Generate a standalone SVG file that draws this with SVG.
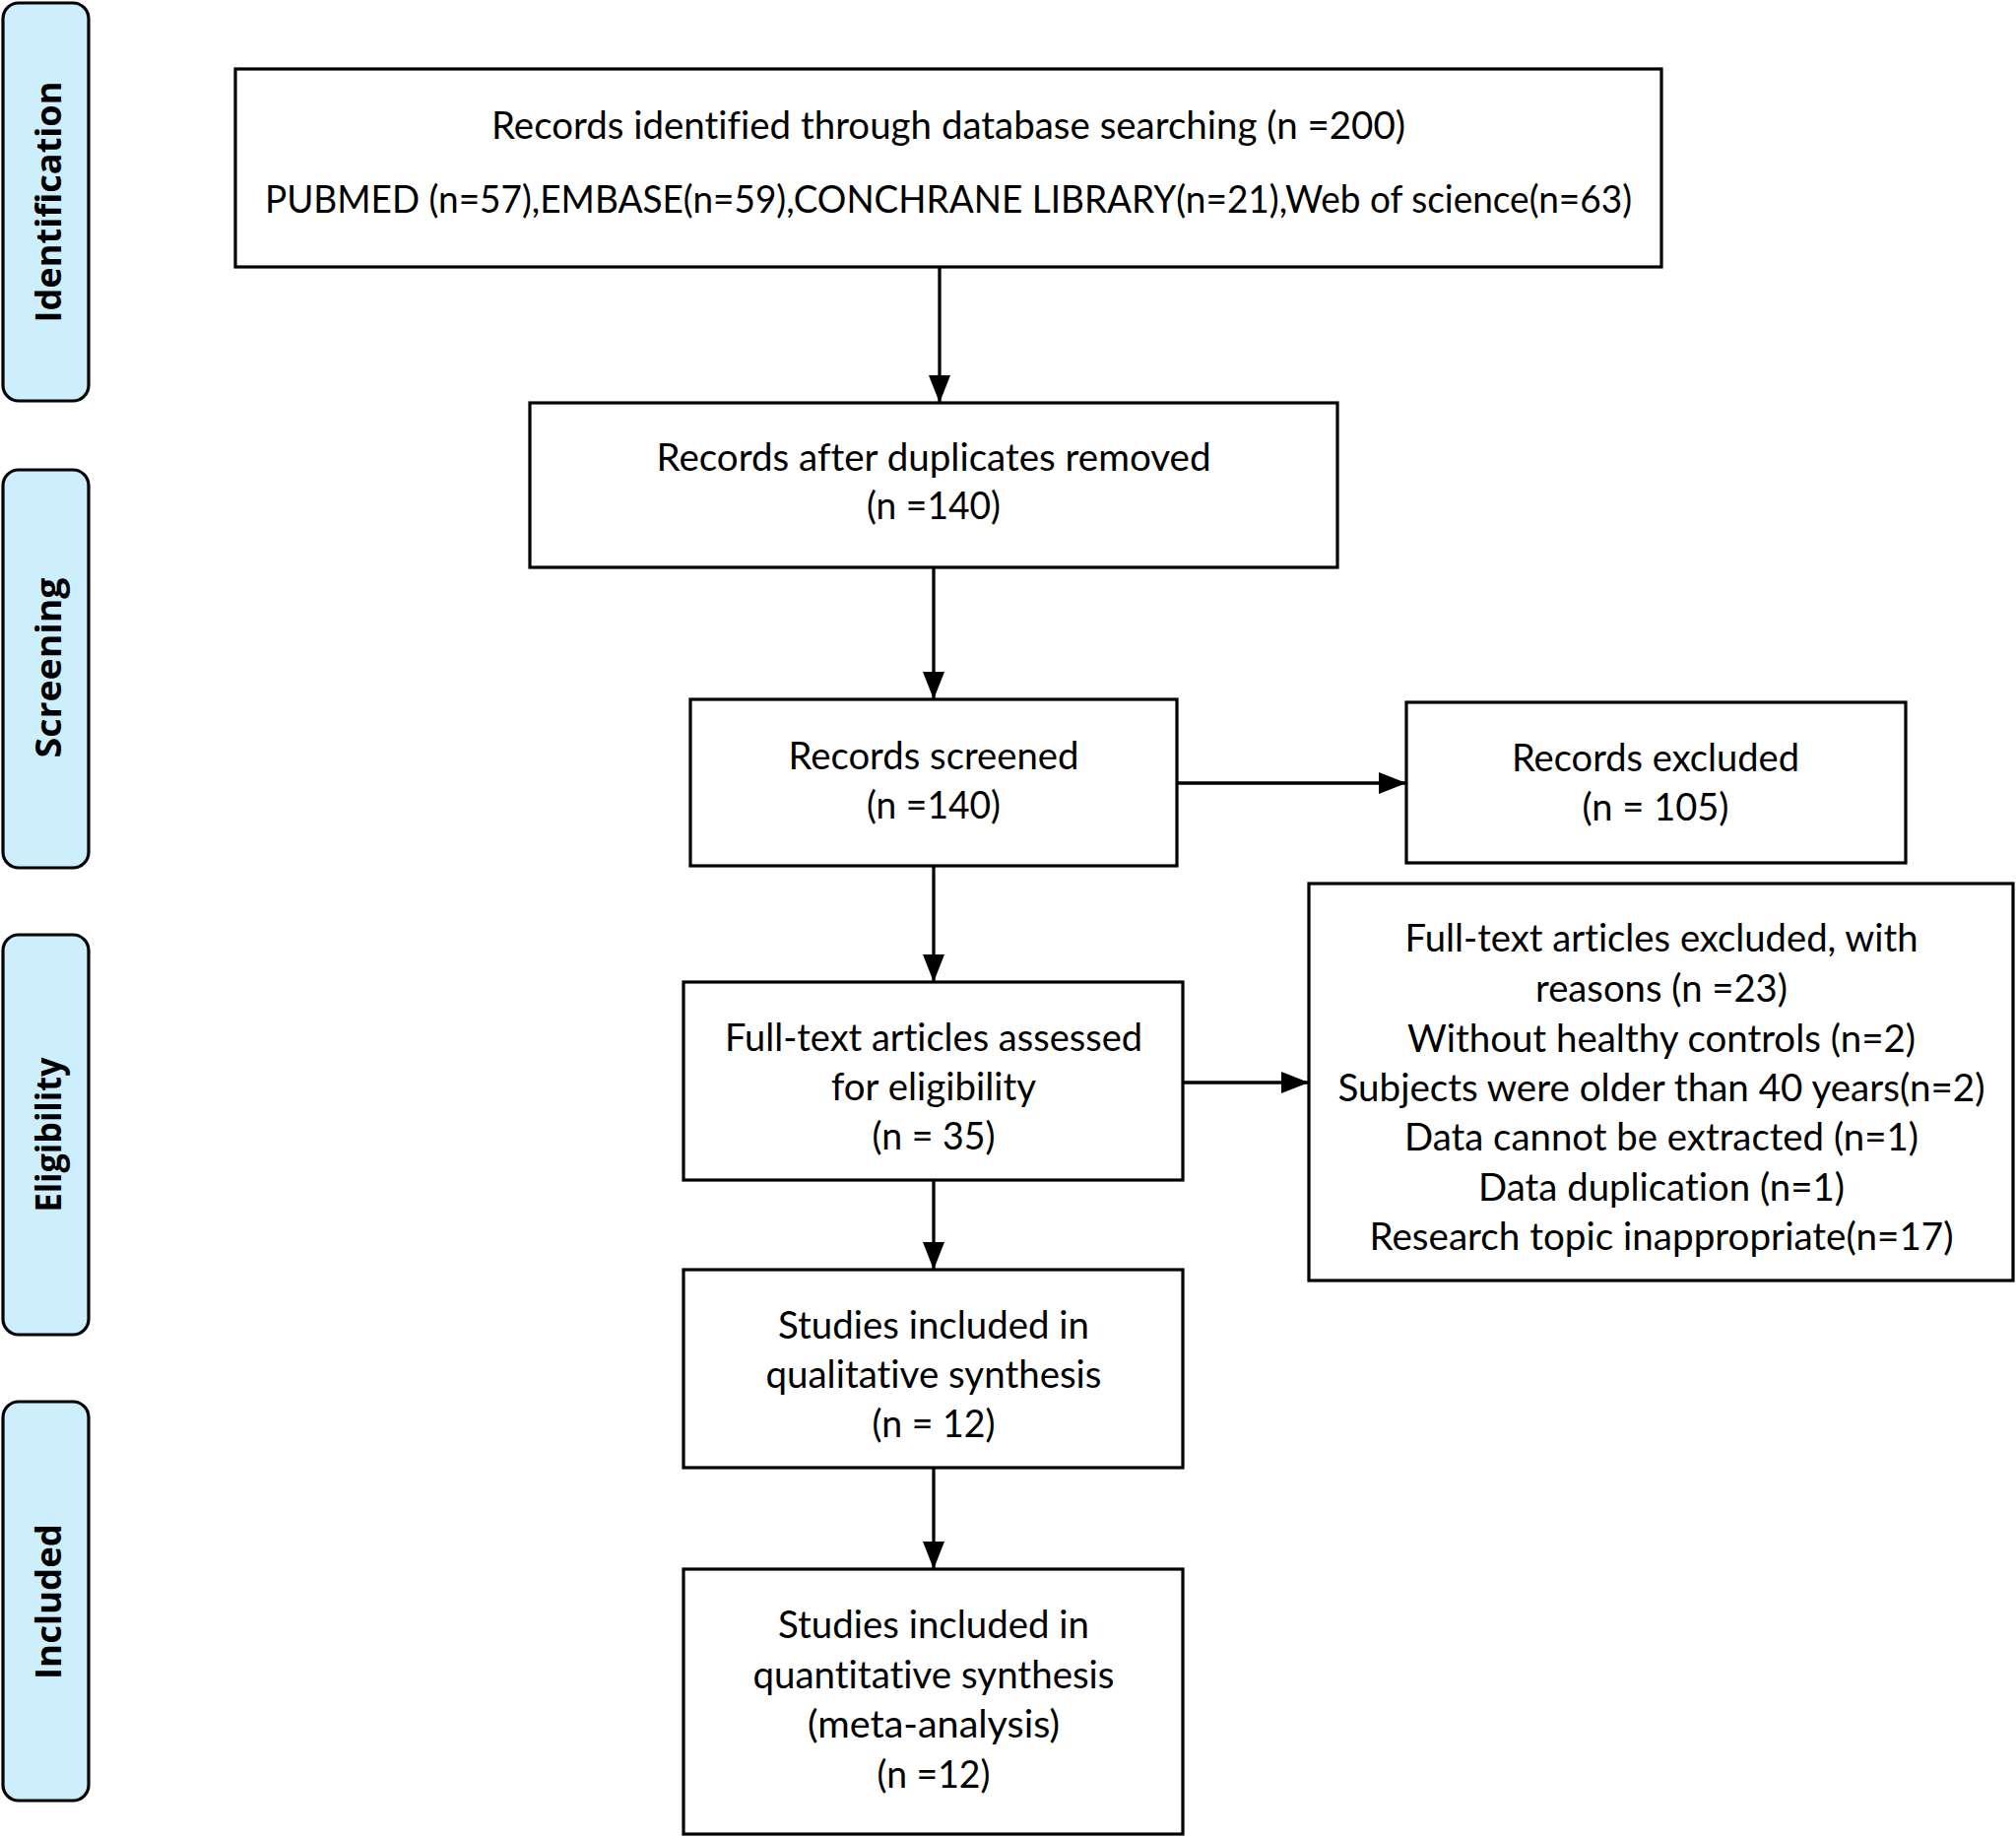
<svg xmlns="http://www.w3.org/2000/svg" width="2047" height="1867" viewBox="0 0 2047 1867">
<defs>
<style>
.box{fill:#ffffff;stroke:#000000;stroke-width:3.2}
.side{fill:#cdeefd;stroke:#000000;stroke-width:3.2}
.t{font-family:Lato,"Open Sans","Liberation Sans",sans-serif;font-size:38px;fill:#000000;text-anchor:middle;font-variant-ligatures:none}
.s{font-family:"Open Sans","Liberation Sans",sans-serif;font-weight:bold;font-size:36px;fill:#000000;text-anchor:middle}
.c{stroke:#000000;stroke-width:3.3;fill:none;marker-end:url(#ah)}
</style>
<marker id="ah" markerUnits="userSpaceOnUse" markerWidth="28" markerHeight="22" viewBox="0 0 28 22" refX="28" refY="11" orient="auto">
<path d="M0,0 L28,11 L0,22 Z" fill="#000000"/>
</marker>
</defs>
<rect width="2047" height="1867" fill="#ffffff"/>

<g id="stage-identification">
<rect class="side" x="3" y="3" width="87" height="404" rx="16"/>
<text class="s" transform="translate(62,205) rotate(-90)" textLength="245" lengthAdjust="spacingAndGlyphs">Identification</text>
</g>
<g id="stage-screening">
<rect class="side" x="3" y="477" width="87" height="404" rx="16"/>
<text class="s" transform="translate(62,678) rotate(-90)" textLength="183" lengthAdjust="spacingAndGlyphs">Screening</text>
</g>
<g id="stage-eligibility">
<rect class="side" x="3" y="949" width="87" height="406" rx="16"/>
<text class="s" transform="translate(62,1152) rotate(-90)" textLength="157" lengthAdjust="spacingAndGlyphs">Eligibility</text>
</g>
<g id="stage-included">
<rect class="side" x="3" y="1423" width="87" height="405" rx="16"/>
<text class="s" transform="translate(62,1626) rotate(-90)" textLength="158" lengthAdjust="spacingAndGlyphs">Included</text>
</g>

<g id="connectors">
<line class="c" x1="954" y1="272" x2="954" y2="409"/>
<line class="c" x1="948" y1="576" x2="948" y2="710"/>
<line class="c" x1="1195" y1="795" x2="1428" y2="795"/>
<line class="c" x1="948" y1="879" x2="948" y2="997"/>
<line class="c" x1="1201" y1="1099" x2="1329" y2="1099"/>
<line class="c" x1="948" y1="1198" x2="948" y2="1289"/>
<line class="c" x1="948" y1="1490" x2="948" y2="1593"/>
</g>

<g id="node-identified">
<rect class="box" x="239" y="70" width="1448" height="201"/>
<text class="t" x="963" y="141" textLength="928" lengthAdjust="spacingAndGlyphs">Records identified through database searching (n =200)</text>
<text class="t" x="963" y="216" textLength="1388" lengthAdjust="spacingAndGlyphs">PUBMED (n=57),EMBASE(n=59),CONCHRANE LIBRARY(n=21),Web of science(n=63)</text>
</g>
<g id="node-duplicates">
<rect class="box" x="538" y="409" width="820" height="167"/>
<text class="t" x="948" y="478" textLength="563" lengthAdjust="spacingAndGlyphs">Records after duplicates removed</text>
<text class="t" x="948" y="527" textLength="136" lengthAdjust="spacingAndGlyphs">(n =140)</text>
</g>
<g id="node-screened">
<rect class="box" x="701" y="710" width="494" height="169"/>
<text class="t" x="948" y="781" textLength="295" lengthAdjust="spacingAndGlyphs">Records screened</text>
<text class="t" x="948" y="831" textLength="136" lengthAdjust="spacingAndGlyphs">(n =140)</text>
</g>
<g id="node-excluded">
<rect class="box" x="1428" y="713" width="507" height="163"/>
<text class="t" x="1681" y="783" textLength="292" lengthAdjust="spacingAndGlyphs">Records excluded</text>
<text class="t" x="1681" y="833" textLength="149" lengthAdjust="spacingAndGlyphs">(n = 105)</text>
</g>
<g id="node-fulltext">
<rect class="box" x="694" y="997" width="507" height="201"/>
<text class="t" x="948" y="1067" textLength="424" lengthAdjust="spacingAndGlyphs">Full-text articles assessed</text>
<text class="t" x="948" y="1117" textLength="208" lengthAdjust="spacingAndGlyphs">for eligibility</text>
<text class="t" x="948" y="1167" textLength="125" lengthAdjust="spacingAndGlyphs">(n = 35)</text>
</g>
<g id="node-fulltext-excluded">
<rect class="box" x="1329" y="897" width="715" height="403"/>
<text class="t" x="1687" y="966" textLength="521" lengthAdjust="spacingAndGlyphs">Full-text articles excluded, with</text>
<text class="t" x="1687" y="1017" textLength="256" lengthAdjust="spacingAndGlyphs">reasons (n =23)</text>
<text class="t" x="1687" y="1068" textLength="516" lengthAdjust="spacingAndGlyphs">Without healthy controls (n=2)</text>
<text class="t" x="1687" y="1118" textLength="657" lengthAdjust="spacingAndGlyphs">Subjects were older than 40 years(n=2)</text>
<text class="t" x="1687" y="1168" textLength="522" lengthAdjust="spacingAndGlyphs">Data cannot be extracted (n=1)</text>
<text class="t" x="1687" y="1219" textLength="372" lengthAdjust="spacingAndGlyphs">Data duplication (n=1)</text>
<text class="t" x="1687" y="1269" textLength="593" lengthAdjust="spacingAndGlyphs">Research topic inappropriate(n=17)</text>
</g>
<g id="node-qualitative">
<rect class="box" x="694" y="1289" width="507" height="201"/>
<text class="t" x="948" y="1359" textLength="316" lengthAdjust="spacingAndGlyphs">Studies included in</text>
<text class="t" x="948" y="1409" textLength="341" lengthAdjust="spacingAndGlyphs">qualitative synthesis</text>
<text class="t" x="948" y="1459" textLength="125" lengthAdjust="spacingAndGlyphs">(n = 12)</text>
</g>
<g id="node-quantitative">
<rect class="box" x="694" y="1593" width="507" height="269"/>
<text class="t" x="948" y="1663" textLength="316" lengthAdjust="spacingAndGlyphs">Studies included in</text>
<text class="t" x="948" y="1714" textLength="367" lengthAdjust="spacingAndGlyphs">quantitative synthesis</text>
<text class="t" x="948" y="1764" textLength="256" lengthAdjust="spacingAndGlyphs">(meta-analysis)</text>
<text class="t" x="948" y="1815" textLength="115" lengthAdjust="spacingAndGlyphs">(n =12)</text>
</g>
</svg>
